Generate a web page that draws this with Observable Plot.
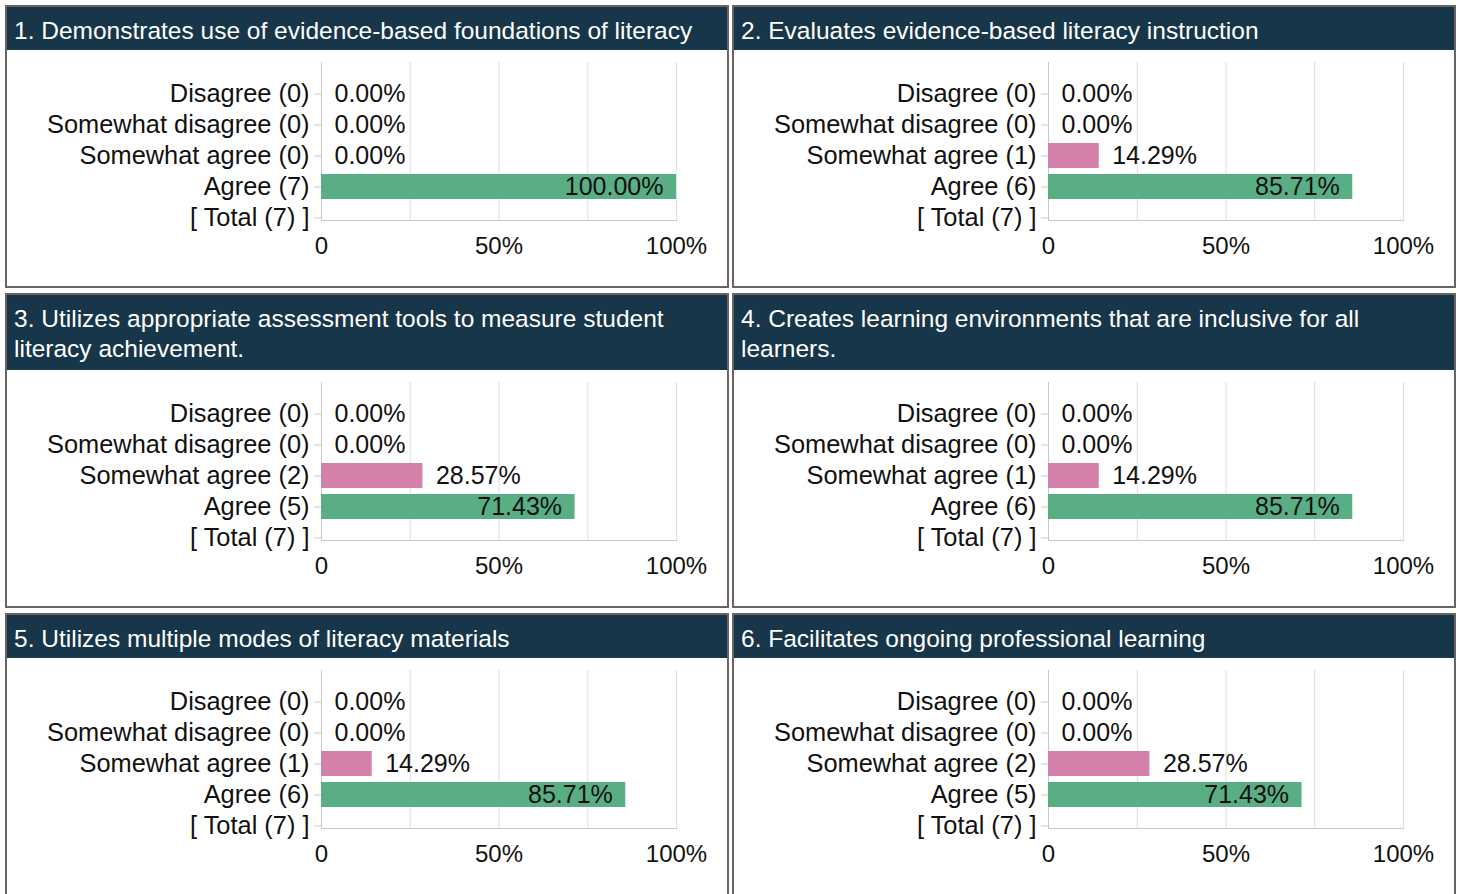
<!DOCTYPE html>
<html><head><meta charset="utf-8">
<script src="https://cdn.jsdelivr.net/npm/d3@7"></script>
<script src="https://cdn.jsdelivr.net/npm/@observablehq/plot@0.6"></script>
<style>
html,body{margin:0;padding:0;overflow:hidden;background:#fff;width:1463px;height:894px;}
.panel{position:absolute;width:720px;border:2px solid #6b6262;background:#fff;}
.hdr{background:#17364a;color:#fff;font-family:"Liberation Sans",Arial,sans-serif;font-size:24.5px;line-height:30px;padding:9px 10px 0 7px;box-sizing:border-box;}
.body{height:236px;position:relative;}
.body svg{display:block;}
</style></head><body><div id="root"></div>
<script>
const titles = [
  "1. Demonstrates use of evidence-based foundations of literacy",
  "2. Evaluates evidence-based literacy instruction",
  "3. Utilizes appropriate assessment tools to measure student literacy achievement.",
  "4. Creates learning environments that are inclusive for all learners.",
  "5. Utilizes multiple modes of literacy materials",
  "6. Facilitates ongoing professional learning"
];
const categories = ["Disagree", "Somewhat disagree", "Somewhat agree", "Agree"];
const disagree = [0, 0, 0, 0, 0, 0];
const somewhatDisagree = [0, 0, 0, 0, 0, 0];
const somewhatAgree = [0, 1, 2, 1, 1, 2];
const agree = [7, 6, 5, 6, 6, 5];
const totals = [7, 7, 7, 7, 7, 7];
const totalLabel = "Total";
const xTicks = [0, 50, 100];
const gridTicks = [25, 50, 75, 100];
const colors = ["#c0504d", "#e8a0c0", "#d580ab", "#5aae84"];

const series = [disagree, somewhatDisagree, somewhatAgree, agree];

const colX = [5, 732];
const rowTop = [5, 293, 613];
const hdrH = [43, 75, 43];

const root = document.getElementById("root");
titles.forEach((title, i) => {
  const r = Math.floor(i / 2), c = i % 2;
  const panel = document.createElement("div");
  panel.className = "panel";
  panel.style.left = colX[c] + "px";
  panel.style.top = rowTop[r] + "px";
  const hdr = document.createElement("div");
  hdr.className = "hdr";
  hdr.style.height = hdrH[r] + "px";
  hdr.textContent = title;
  panel.appendChild(hdr);
  const body = document.createElement("div");
  body.className = "body";
  panel.appendChild(body);
  root.appendChild(panel);

  const data = categories.map((cat, j) => {
    const n = series[j][i];
    return {cat, n, pct: n / totals[i] * 100, label: `${cat} (${n})`};
  });
  const domain = [...data.map(d => d.label), `[ ${totalLabel} (${totals[i]}) ]`];
  const fmt = d => d.pct.toFixed(2) + "%";

  const svg = Plot.plot({
    width: 720, height: 236,
    marginTop: 12, marginBottom: 66, marginLeft: 314, marginRight: 51,
    style: {fontFamily: "'Liberation Sans', Arial, sans-serif", fontSize: "25px", color: "#111", background: "transparent"},
    x: {domain: [0, 100]},
    y: {type: "band", domain, range: [27.4, 183.6], paddingInner: 0.2, paddingOuter: 0.1},
    color: {domain: categories, range: colors},
    marks: [
      Plot.ruleX(gridTicks, {stroke: "#dedede", strokeWidth: 1}),
      Plot.ruleX([0], {stroke: "#c9c9c9"}),
      Plot.frame({anchor: "bottom", stroke: "#c9c9c9"}),
      Plot.barX(data, {x: "pct", y: "label", fill: "cat"}),
      Plot.text(data.filter(d => d.pct >= 50), {x: "pct", y: "label", text: fmt, dx: -13, textAnchor: "end", fill: "#111", fontSize: 25}),
      Plot.text(data.filter(d => d.pct < 50), {x: "pct", y: "label", text: fmt, dx: 13, textAnchor: "start", fill: "#111", fontSize: 25}),
      Plot.axisY({tickSize: 7, tickPadding: 5, stroke: "#c9c9c9", fill: "#111", fontSize: 25.4, label: null}),
      Plot.axisX({ticks: xTicks, tickSize: 0, tickPadding: 16, fontSize: 24, fill: "#111", label: null,
        tickFormat: d => d === 0 ? "0" : d + "%"})
    ]
  });
  body.appendChild(svg);
});
</script></body></html>
